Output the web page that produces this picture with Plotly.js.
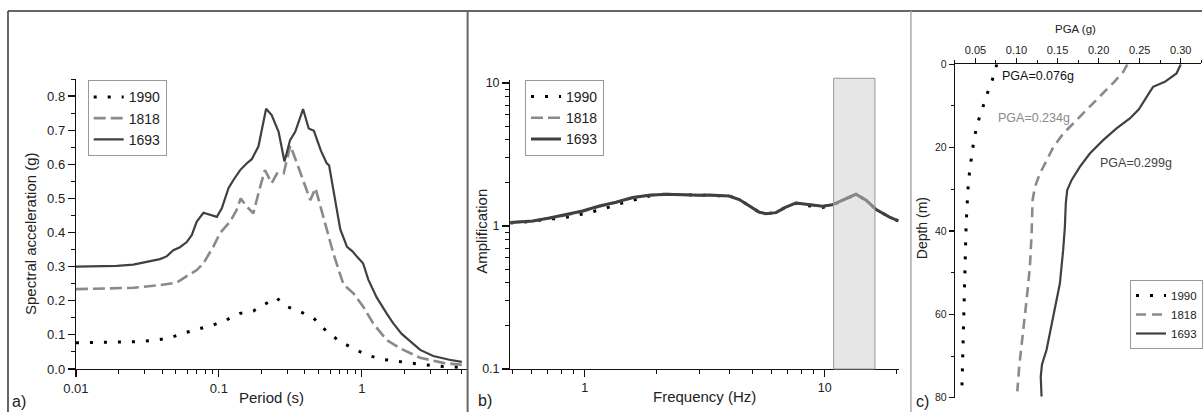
<!DOCTYPE html>
<html>
<head>
<meta charset="utf-8">
<script src="https://cdn.plot.ly/plotly-3.0.1.min.js"></script>
<style>
html,body{margin:0;padding:0;background:#fff;width:1203px;height:412px;overflow:hidden}
#chart{width:1203px;height:412px;overflow:hidden}
</style>
</head>
<body>
<div id="chart"></div>
<script>
// ---------- DATA ----------
// Panel a: response spectra (period s, spectral acceleration g)
const periodA1990 = [0.01,0.0281,0.0367,0.0455,0.0564,0.0739,0.0913,0.1131,0.1408,0.174,0.2166,0.2518,0.2984,0.3706,0.4599,0.5717,0.7057,0.8735,1.08,1.41,1.86,2.56,3.7,5.0];
const saA1990     = [0.077,0.080,0.085,0.091,0.105,0.119,0.129,0.144,0.163,0.170,0.193,0.209,0.183,0.168,0.149,0.109,0.080,0.061,0.041,0.028,0.021,0.014,0.007,0.005];
const periodA1818 = [0.01,0.0252,0.0387,0.0507,0.0596,0.070,0.078,0.0913,0.1017,0.1199,0.133,0.1421,0.157,0.174,0.1933,0.2098,0.2344,0.2546,0.2837,0.316,0.3516,0.4361,0.4737,0.5418,0.6318,0.7435,0.80,0.8735,1.02,1.2,1.49,1.86,2.56,3.7,5.0];
const saA1818     = [0.234,0.238,0.246,0.253,0.272,0.290,0.310,0.358,0.398,0.432,0.466,0.500,0.476,0.456,0.530,0.583,0.545,0.573,0.573,0.655,0.603,0.495,0.530,0.437,0.339,0.248,0.237,0.222,0.183,0.134,0.085,0.060,0.033,0.018,0.012];
const periodA1693 = [0.01,0.0193,0.0252,0.0313,0.0387,0.0431,0.048,0.0534,0.0596,0.0647,0.070,0.078,0.0867,0.0968,0.1048,0.1167,0.1264,0.1408,0.157,0.1698,0.189,0.214,0.234,0.2616,0.2876,0.3147,0.3419,0.388,0.425,0.462,0.517,0.568,0.59,0.632,0.706,0.788,0.86,0.93,1.02,1.11,1.27,1.49,1.65,1.90,2.18,2.56,3.16,4.1,5.0];
const saA1693     = [0.300,0.302,0.306,0.313,0.322,0.330,0.348,0.357,0.372,0.393,0.432,0.458,0.451,0.446,0.471,0.530,0.554,0.583,0.603,0.615,0.652,0.763,0.744,0.695,0.608,0.671,0.695,0.762,0.705,0.698,0.640,0.603,0.597,0.525,0.410,0.358,0.345,0.328,0.310,0.262,0.210,0.163,0.135,0.103,0.080,0.056,0.038,0.027,0.021];

// Panel b: amplification functions (frequency Hz, amplification)
const freqB1990 = [0.49,0.608,0.714,0.773,0.892,1.03,1.19,1.35,1.56,1.86,2.18,2.56,3.0,3.3,4.0,4.41,4.86,5.33,5.69,6.27,6.9,7.6,8.36,9.8,10.8,12.3,13.5,14.9,16.4,18.6,20.3];
const ampB1990  = [1.05,1.08,1.12,1.126,1.17,1.235,1.31,1.41,1.50,1.62,1.67,1.66,1.65,1.65,1.62,1.53,1.37,1.25,1.22,1.24,1.36,1.44,1.39,1.35,1.40,1.555,1.666,1.513,1.302,1.156,1.084];
const freqB1818 = [0.49,0.608,0.714,0.837,0.98,1.152,1.35,1.586,1.86,2.18,2.56,3.0,3.3,4.0,4.41,4.86,5.33,5.69,6.27,6.9,7.6,8.36,9.8,10.8,12.3,13.5,14.9,16.4,18.6,20.3];
const ampB1818  = [1.056,1.084,1.135,1.19,1.265,1.37,1.46,1.575,1.645,1.67,1.655,1.645,1.65,1.62,1.53,1.373,1.25,1.22,1.24,1.358,1.45,1.418,1.373,1.41,1.555,1.666,1.513,1.302,1.156,1.084];
const freqB1693 = [0.49,0.608,0.714,0.837,0.98,1.152,1.35,1.586,1.86,2.18,2.56,3.0,3.3,4.0,4.41,4.86,5.33,5.69,6.27,6.9,7.6,8.36,9.8,10.8,12.3,13.5,14.9,16.4,18.6,20.3];
const ampB1693  = [1.056,1.084,1.137,1.20,1.273,1.38,1.465,1.58,1.64,1.666,1.65,1.64,1.65,1.62,1.53,1.373,1.25,1.22,1.24,1.358,1.45,1.418,1.373,1.41,1.555,1.666,1.513,1.302,1.156,1.084];
const bandB = [10.9, 16.2];   // highlighted frequency band (Hz)

// Panel c: PGA profiles (PGA g, depth m)
const depthC1990 = [0,3.6,7.0,10.6,14.1,17.6,21.4,25,28.6,32.3,35.9,39.7,43.3,46.9,50.6,54.2,57.8,61.6,65.3,68.9,72.5,76.3,78];
const pgaC1990   = [0.076,0.0708,0.0644,0.0583,0.0527,0.0486,0.0457,0.0433,0.0413,0.0400,0.0393,0.0385,0.0380,0.0373,0.0369,0.0365,0.0360,0.0353,0.0350,0.0345,0.0340,0.0337,0.0335];
const depthC1818 = [0,1.8,4.2,7.8,11,14.2,16.6,19.8,23,26.2,29.4,32.6,40.6,48.6,56.5,64.5,72.5,78.5];
const pgaC1818   = [0.235,0.230,0.219,0.2015,0.185,0.169,0.157,0.145,0.137,0.1285,0.1224,0.1196,0.1184,0.1163,0.1123,0.1074,0.1033,0.101];
const depthC1693 = [0,2.2,4.2,5.4,6.6,9.4,10.8,13,15.4,18.2,21.4,24.6,27.8,30.2,33.4,39,44.6,52.6,60.6,68.5,72,75,79.7];
const pgaC1693   = [0.300,0.2948,0.2806,0.2663,0.2623,0.254,0.249,0.238,0.2218,0.2055,0.1893,0.1771,0.167,0.1617,0.160,0.1589,0.1568,0.1528,0.1447,0.1366,0.131,0.1295,0.1305];
const pgaLabels = [
  {text:'PGA=0.076g', x:0.0798, y:2.8,  color:'#111'},
  {text:'PGA=0.234g', x:0.0746, y:13.0, color:'#8a8a8a'},
  {text:'PGA=0.299g', x:0.199,  y:23.7, color:'#444'}
];
const seriesNames = ['1990','1818','1693'];
const tickA_y = [0,0.1,0.2,0.3,0.4,0.5,0.6,0.7,0.8];
const tickA_x = [0.01,0.1,1];
const tickB_y = [0.1,1,10];
const tickB_x = [1,10];
const tickC_x = [0.05,0.10,0.15,0.20,0.25,0.30];
const tickC_y = [0,20,40,60,80];
const titles = {
  aX:'Period (s)', aY:'Spectral acceleration (g)',
  bX:'Frequency (Hz)', bY:'Amplification',
  cX:'PGA (g)', cY:'Depth (m)'
};

// ---------- LAYOUT HELPERS ----------
const W = 1203, H = 412;
const px = v => v / W;
const py = v => 1 - v / H;
const FONT = 'Liberation Sans, Arial, sans-serif';
const TXT = '#222';

function logMinor(lo, hi){ // minor tick positions 2..9 per decade
  const out=[];
  for(let e=lo;e<=hi;e++){ for(let m=2;m<=9;m++){ out.push(m*Math.pow(10,e)); } }
  return out;
}

const styles = {
  '1990': {color:'#000', width:3, dash:'3px,11px'},
  '1818': {color:'#8a8a8a', width:2.6, dash:'12px,5px'},
  '1693': {color:'#404040', width:2.2, dash:'solid'}
};
const stylesC = {
  '1990': {color:'#000', width:3, dash:'3px,11px'},
  '1818': {color:'#8a8a8a', width:2.6, dash:'10px,6px'},
  '1693': {color:'#404040', width:2.2, dash:'solid'}
};

const traces = [];
const A = [[periodA1990,saA1990],[periodA1818,saA1818],[periodA1693,saA1693]];
const B = [[freqB1990,ampB1990],[freqB1818,ampB1818],[freqB1693,ampB1693]];
const C = [[pgaC1990,depthC1990],[pgaC1818,depthC1818],[pgaC1693,depthC1693]];
seriesNames.forEach((n,i)=>{
  traces.push({x:A[i][0], y:A[i][1], name:n, type:'scatter', mode:'lines', xaxis:'x', yaxis:'y', legend:'legend', line:styles[n], hoverinfo:'skip'});
});
seriesNames.forEach((n,i)=>{
  const st = Object.assign({}, styles[n]);
  if(n==='1693') st.width=3;
  traces.push({x:B[i][0], y:B[i][1], name:n, type:'scatter', mode:'lines', xaxis:'x2', yaxis:'y2', legend:'legend2', line:st, hoverinfo:'skip'});
});
seriesNames.forEach((n,i)=>{
  traces.push({x:C[i][0], y:C[i][1], name:n, type:'scatter', mode:'lines', xaxis:'x3', yaxis:'y3', legend:'legend3', line:stylesC[n], hoverinfo:'skip'});
});

const axBase = {showgrid:false, zeroline:false, showline:true, linecolor:'#111', linewidth:1.2,
  ticks:'outside', ticklen:7, tickwidth:1.2, tickcolor:'#111', tickfont:{family:FONT,size:13,color:TXT}};

function ttl(text, x, y, size, rot){
  return {xref:'paper', yref:'paper', x:px(x), y:py(y), text:text, textangle:rot||0, showarrow:false,
    xanchor:'center', yanchor:'middle', font:{family:FONT,size:size,color:TXT}};
}

const legBase = {xanchor:'left', yanchor:'top', bgcolor:'#fff', bordercolor:'#999', borderwidth:1, itemwidth:30, tracegroupgap:0};

const layout = {
  width:W, height:H, margin:{l:0,r:0,t:0,b:0}, paper_bgcolor:'#fff', plot_bgcolor:'rgba(0,0,0,0)',
  font:{family:FONT, color:TXT},
  showlegend:true,
  xaxis: Object.assign({}, axBase, {type:'log', domain:[px(76),px(467.3)], range:[-2,0.735], anchor:'y',
    tickvals:tickA_x, ticktext:tickA_x.map(String),
    minor:{tickvals:logMinor(-2,0), ticks:'outside', ticklen:4, tickcolor:'#111', tickwidth:1}}),
  yaxis: Object.assign({}, axBase, {domain:[py(369),py(79)], range:[0,0.85], anchor:'x',
    tickvals:tickA_y, tickformat:'.1f',
    minor:{dtick:0.05, ticks:'outside', ticklen:4, tickcolor:'#111', tickwidth:1}}),
  xaxis2: Object.assign({}, axBase, {type:'log', domain:[px(510.7),px(899.3)], range:[Math.log10(0.49),1.308], anchor:'y2',
    tickvals:tickB_x, ticktext:tickB_x.map(String), tickfont:{family:FONT,size:12.5,color:TXT},
    minor:{tickvals:logMinor(-1,1), ticks:'outside', ticklen:4, tickcolor:'#111', tickwidth:1}}),
  yaxis2: Object.assign({}, axBase, {type:'log', domain:[py(369),py(80)], range:[-1,1.021], anchor:'x2',
    tickvals:tickB_y, ticktext:tickB_y.map(String), tickfont:{family:FONT,size:12.5,color:TXT},
    minor:{tickvals:logMinor(-1,0), ticks:'outside', ticklen:4, tickcolor:'#111', tickwidth:1}}),
  xaxis3: Object.assign({}, axBase, {domain:[px(955.7),px(1202.3)], range:[0.025,0.325], anchor:'y3', side:'top',
    tickvals:tickC_x, tickformat:'.2f', ticklen:5, tickfont:{family:FONT,size:11,color:TXT},
    minor:{dtick:0.025, ticks:'outside', ticklen:3, tickcolor:'#111', tickwidth:1}}),
  yaxis3: Object.assign({}, axBase, {domain:[py(397.7),py(64.3)], range:[80,0], anchor:'x3',
    tickvals:tickC_y, ticklen:5, tickfont:{family:FONT,size:10.5,color:TXT},
    minor:{dtick:10, ticks:'outside', ticklen:3, tickcolor:'#111', tickwidth:1}}),
  legend: Object.assign({}, legBase, {x:px(87.7), y:py(80.3), font:{family:FONT,size:14,color:TXT}}),
  legend2: Object.assign({}, legBase, {x:px(525), y:py(80), font:{family:FONT,size:14,color:TXT}}),
  legend3: Object.assign({}, legBase, {x:px(1131), y:py(280), font:{family:FONT,size:11.5,color:TXT}}),
  shapes: [
    {type:'line', xref:'paper', yref:'paper', x0:px(8), x1:1, y0:py(11), y1:py(11), line:{color:'#333', width:1.5}},
    {type:'line', xref:'paper', yref:'paper', x0:px(8), x1:px(8), y0:0, y1:py(11), line:{color:'#333', width:1.5}},
    {type:'line', xref:'paper', yref:'paper', x0:px(468), x1:px(468), y0:0, y1:py(11), line:{color:'#666', width:2}},
    {type:'line', xref:'paper', yref:'paper', x0:px(911.7), x1:px(911.7), y0:0, y1:py(11), line:{color:'#aaa', width:1.5}},
    {type:'rect', xref:'x2', yref:'y2 domain', x0:bandB[0], x1:bandB[1], y0:0, y1:1.006, layer:'above',
      fillcolor:'rgba(206,206,206,0.5)', line:{color:'#999', width:1}}
  ],
  annotations: [
    ttl(titles.aY, 30, 233, 15, -90),
    ttl(titles.aX, 272, 397, 15),
    ttl(titles.bY, 481.7, 231.5, 15, -90),
    ttl(titles.bX, 705, 396.5, 15),
    ttl(titles.cY, 923, 228, 14, -90),
    ttl(titles.cX, 1076, 29, 11.5),
    {xref:'paper', yref:'paper', x:px(10), y:py(401), text:'a)', showarrow:false, xanchor:'left', yanchor:'middle', font:{family:FONT,size:16,color:TXT}},
    {xref:'paper', yref:'paper', x:px(476), y:py(400), text:'b)', showarrow:false, xanchor:'left', yanchor:'middle', font:{family:FONT,size:16,color:TXT}},
    {xref:'paper', yref:'paper', x:px(915), y:py(401), text:'c)', showarrow:false, xanchor:'left', yanchor:'middle', font:{family:FONT,size:16,color:TXT}}
  ].concat(pgaLabels.map(l=>({xref:'x3', yref:'y3', x:l.x, y:l.y, text:l.text, showarrow:false, xanchor:'left', yanchor:'middle',
      font:{family:FONT,size:12.5,color:l.color}})))
};

Plotly.newPlot('chart', traces, layout, {staticPlot:true, displayModeBar:false});
</script>
</body>
</html>
